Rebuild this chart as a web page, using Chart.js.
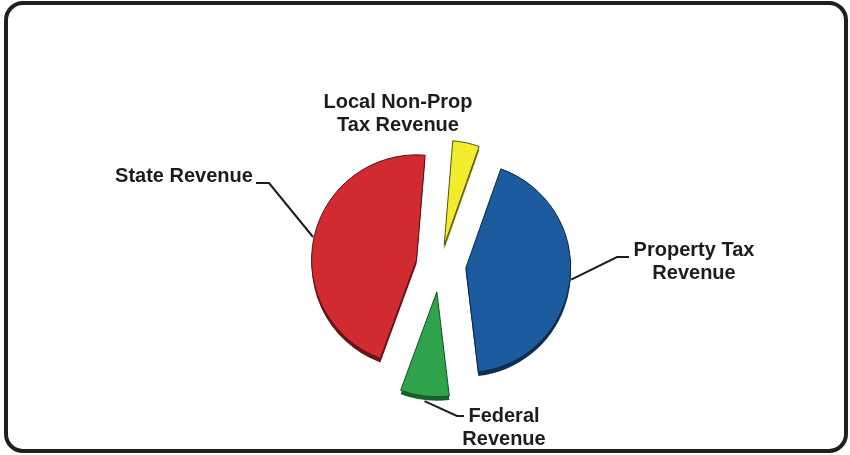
<!DOCTYPE html>
<html>
<head>
<meta charset="utf-8">
<title>Revenue Sources</title>
<script src="https://cdn.jsdelivr.net/npm/chart.js@4.4.1/dist/chart.umd.min.js"></script>
<style>
  html, body { margin: 0; padding: 0; background: #ffffff; }
  #wrap { width: 850px; height: 455px; }
</style>
</head>
<body>
<div id="wrap"><canvas id="revenuePie" width="850" height="455"></canvas></div>
<script>
// Revenue sources, share of total (%), clockwise from the top
const categories = [
  ['Local Non-Prop', 'Tax Revenue'],
  ['Property Tax', 'Revenue'],
  ['Federal', 'Revenue'],
  ['State Revenue']
];
const shares = [4.1, 42.7, 7.5, 45.7];

// Slice appearance
const fillColors = ['#f1ec2e', '#1b5b9e', '#2ea34b', '#d12a2f'];
const sideColors = ['#7d7a12', '#0c2e55', '#15622b', '#6a1418'];
const edgeColors = ['#55530e', '#0b2746', '#145226', '#5a1216'];
const explode = [20, 26, 27, 24];   // px each slice is pulled out
const depth = { x: 0, y: 4 };       // extruded side of the pie

// Label placement: text block centre and the elbow of its leader line
const labelStyle = [
  { cx: 398, cy: 102, leader: null },
  { cx: 694, cy: 250, leader: { from: [629, 257], elbow: [617, 257] } },
  { cx: 504, cy: 416, leader: { from: [464, 416], elbow: [457, 416] } },
  { cx: 184, cy: 176, leader: { from: [256, 183], elbow: [269, 183] } }
];
const lineGap = 23;

function sliceGeometry(arc, i) {
  const p = arc.getProps(['x', 'y', 'startAngle', 'endAngle', 'outerRadius'], true);
  const mid = (p.startAngle + p.endAngle) / 2;
  return {
    ...p, mid,
    dx: Math.cos(mid) * explode[i],
    dy: Math.sin(mid) * explode[i]
  };
}

const explodedPie = {
  id: 'explodedPie',
  beforeDatasetDraw(chart, args) {
    const ctx = chart.ctx;
    const arcs = args.meta.data;
    arcs.forEach((arc, i) => {
      const g = sliceGeometry(arc, i);
      // side wall
      ctx.save();
      ctx.translate(g.dx + depth.x, g.dy + depth.y);
      ctx.beginPath();
      ctx.moveTo(g.x, g.y);
      ctx.arc(g.x, g.y, g.outerRadius, g.startAngle, g.endAngle);
      ctx.closePath();
      ctx.fillStyle = sideColors[i];
      ctx.fill();
      ctx.restore();
      // top face
      ctx.save();
      ctx.translate(g.dx, g.dy);
      arc.draw(ctx);
      ctx.restore();
    });
    return false;
  },
  afterDatasetsDraw(chart) {
    const ctx = chart.ctx;
    const arcs = chart.getDatasetMeta(0).data;
    ctx.save();
    ctx.fillStyle = '#1b1d1b';
    ctx.strokeStyle = '#1b1d1b';
    ctx.font = 'bold 20px "Liberation Sans", Arial, sans-serif';
    ctx.textAlign = 'center';
    ctx.textBaseline = 'middle';
    categories.forEach((lines, i) => {
      const s = labelStyle[i];
      lines.forEach((t, k) => ctx.fillText(t, s.cx, s.cy + k * lineGap));
      if (s.leader) {
        const g = sliceGeometry(arcs[i], i);
        const r = g.outerRadius + 1;
        const ex = g.x + g.dx + Math.cos(g.mid) * r + (i === 2 ? depth.x : 0);
        const ey = g.y + g.dy + Math.sin(g.mid) * r + (i === 2 ? depth.y : 0);
        ctx.lineWidth = 2;
        ctx.beginPath();
        ctx.moveTo(s.leader.from[0], s.leader.from[1]);
        ctx.lineTo(s.leader.elbow[0], s.leader.elbow[1]);
        ctx.lineTo(ex, ey);
        ctx.stroke();
      }
    });
    ctx.restore();
  },
  afterDraw(chart) {
    // rounded frame
    const ctx = chart.ctx;
    const x = 6, y = 3, w = 840, h = 448, r = 17;
    ctx.save();
    ctx.lineWidth = 4;
    ctx.strokeStyle = '#1c211d';
    ctx.beginPath();
    ctx.moveTo(x + r, y);
    ctx.lineTo(x + w - r, y);
    ctx.arcTo(x + w, y, x + w, y + r, r);
    ctx.lineTo(x + w, y + h - r);
    ctx.arcTo(x + w, y + h, x + w - r, y + h, r);
    ctx.lineTo(x + r, y + h);
    ctx.arcTo(x, y + h, x, y + h - r, r);
    ctx.lineTo(x, y + r);
    ctx.arcTo(x, y, x + r, y, r);
    ctx.closePath();
    ctx.stroke();
    ctx.restore();
  }
};

new Chart(document.getElementById('revenuePie'), {
  type: 'pie',
  data: {
    labels: categories,
    datasets: [{
      data: shares,
      backgroundColor: fillColors,
      borderColor: edgeColors,
      borderWidth: 1
    }]
  },
  options: {
    responsive: false,
    animation: false,
    devicePixelRatio: 1,
    rotation: 4.7,
    radius: 105,
    layout: { padding: { left: 130, right: 100, top: 130, bottom: 55 } },
    plugins: {
      legend: { display: false },
      tooltip: { enabled: false }
    }
  },
  plugins: [explodedPie]
});
</script>
</body>
</html>
